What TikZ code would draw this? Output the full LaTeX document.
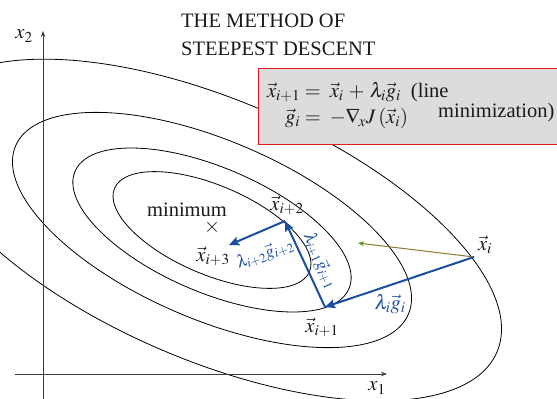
\documentclass[tikz,border=0pt]{standalone}
\usepackage{mathptmx}
\usepackage{fontspec}
\setmainfont{Liberation Serif}
\usetikzlibrary{arrows.meta}
\definecolor{ink}{HTML}{1A1A1A}
\definecolor{pathblue}{HTML}{1A4FA0}
\definecolor{boxfill}{HTML}{DCDCDC}
\definecolor{boxline}{HTML}{E41B1B}
\definecolor{probeline}{HTML}{8A7A2E}
\definecolor{probetip}{HTML}{5C9A1E}
\newcommand{\twenty}{\fontsize{20.5}{28}\selectfont}
\newcommand{\gradsize}{\fontsize{17.5}{20}\selectfont}
\tikzset{
 every node/.append style={font=\twenty,text=ink,inner sep=1pt},
 contour/.style={draw=black,line width=.8pt},
 axis/.style={draw=ink!85,line width=.8pt,-{Stealth[length=6pt,width=4.5pt]}},
 descent/.style={draw=pathblue,line width=2pt,-{Stealth[length=10pt,width=9pt,inset=1.5pt]}},
 probe/.style={draw=probeline,line width=1pt,-{Stealth[length=6pt,width=5pt,color=probetip]}},
 eqbox/.style={draw=boxline,fill=boxfill,line width=1pt},
 grad/.style={font=\gradsize,text=pathblue,inner sep=1pt},
}

\begin{document}
\begin{tikzpicture}[x=1pt,y=-1pt]

\useasboundingbox (0,0) rectangle (557,399);
% level curves of J, all about the minimum
\foreach \a/\b in {106/44.4,149/62.3,213.7/89.4,310/130}
 \draw[contour,rotate around={-23.2:(212,230)}] (212,230) ellipse [x radius=\a,y radius=\b];
% axes
\coordinate (xstart) at (15,374); \coordinate (xend) at (387,374);
\coordinate (ystart) at (43,399); \coordinate (yend) at (43,31);
\draw[axis] (xstart) -- (xend);
\draw[axis] (ystart) -- (yend);
\node (xonelab) at (377,388) {$x_1$};
\node (xtwolab) at (24,36) {$x_2$};
\node[anchor=base west] (titleone) at (180,27) {THE METHOD OF};
\node[anchor=base west] (titletwo) at (180,55) {STEEPEST DESCENT};
% update rule
\node[eqbox,anchor=north west,minimum width=320pt,minimum height=76pt] (formbox) at (258,68) {};
\node[anchor=base west] (eqstep) at (268,97) {\makebox[31pt][r]{$\vec x_{i+1}$}$\;=\;\vec x_i\,+\,\lambda_i\vec g_i$\enspace(line};
\node[anchor=base west] (eqgrad) at (268,123) {\makebox[31pt][r]{$\vec g_i$}$\;=\;-\nabla_{\!x}J\,(\vec x_i)$};
\node[anchor=base west] (eqnote) at (437,117) {minimization)};
\node (minlab) at (187,210) {minimum};
\node (xmin) at (212,227) {$\times$};
% iterates
\coordinate (xi) at (474,257);
\coordinate (xa) at (325,307);
\coordinate (xb) at (285,221);
\coordinate (xc) at (229,245);
\coordinate (probeend) at (358,243);
\node (lxi) at (485,245) {$\vec x_i$};
\node (lxa) at (322,327) {$\vec x_{i+1}$};
\node (lxb) at (287,205) {$\vec x_{i+2}$};
\node (lxc) at (213,256) {$\vec x_{i+3}$};
\draw[probe] (xi) -- (probeend);
\draw[descent] (xi) -- (xa);
\draw[descent] (xa) -- (xb);
\draw[descent] (xb) -- (xc);
\node[grad,font=\twenty] (gi) at (390,304) {$\lambda_i\vec g_i$};
\node[grad,rotate=-66] (gia) at (320,261) {$\lambda_{i+1}\vec g_{i+1}$};
\node[grad,rotate=20] (gib) at (265,254) {$\lambda_{i+2}\vec g_{i+2}$};
\end{tikzpicture}
\end{document}
